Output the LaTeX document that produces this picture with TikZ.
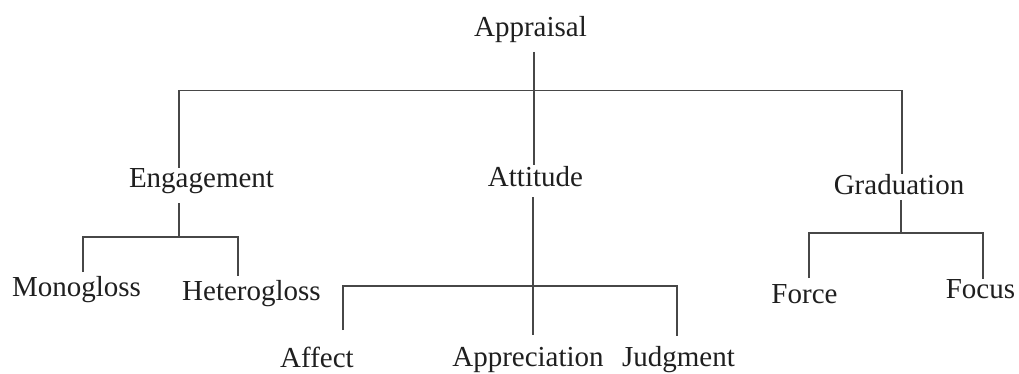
\documentclass[tikz,border=0pt]{standalone}
\usepackage{fontspec}
\setmainfont{Liberation Serif}
\tikzset{
  lbl/.style={anchor=base, inner sep=0pt, font=\fontsize{29}{31}\selectfont, text=black!88},
  ln/.style={draw=black!72, line width=1.6pt}
}
\begin{document}
\begin{tikzpicture}[x=1pt,y=-1pt]
\useasboundingbox[fill=white] (0,0) rectangle (1019,374);
% labels
\node[lbl] (appraisal) at (530.5,37) {Appraisal};
\node[lbl] (engagement) at (201.5,188) {Engagement};
\node[lbl] (attitude) at (535.5,186) {Attitude};
\node[lbl] (graduation) at (899,194) {Graduation};
\node[lbl] (mono) at (76.5,296) {Monogloss};
\node[lbl] (hetero) at (251.5,300) {Heterogloss};
\node[lbl, text depth=0pt] (affect) at (317,367) {Affect};
\node[lbl] (apprec) at (528,366) {Appreciation};
\node[lbl] (judg) at (678.5,366) {Judgment};
\node[lbl] (force) at (804.5,303) {Force};
\node[lbl] (focus) at (980.5,298) {Focus};
% junction coordinates
\coordinate (aTop) at (534,52);
\coordinate (aBot) at (534,165);
\coordinate (barL) at (179,90.5);
\coordinate (barR) at (902,90.5);
\coordinate (engTop) at (179,168);
\coordinate (gradTop) at (902,174);
% engagement
\coordinate (eS) at (179,203);
\coordinate (eJ) at (179,237);
\coordinate (eL) at (83,272);
\coordinate (eR) at (238,276);
% attitude
\coordinate (tS) at (533,197);
\coordinate (tE) at (533,335);
\coordinate (tL) at (343,330);
\coordinate (tR) at (677,336);
\coordinate (tBar) at (533,286);
% graduation
\coordinate (gS) at (901,200);
\coordinate (gJ) at (901,233);
\coordinate (gL) at (809,278);
\coordinate (gR) at (983,279);
% connectors
\draw[ln] (aTop) -- (aBot);
\draw[ln] (engTop) -- (barL) -- (barR) -- (gradTop);
\draw[ln] (eS) -- (eJ);
\draw[ln] (eL) |- (eJ) -| (eR);
\draw[ln] (tS) -- (tE);
\draw[ln] (tL) |- (tBar) -| (tR);
\draw[ln] (gS) -- (gJ);
\draw[ln] (gL) |- (gJ) -| (gR);
\end{tikzpicture}
\end{document}
